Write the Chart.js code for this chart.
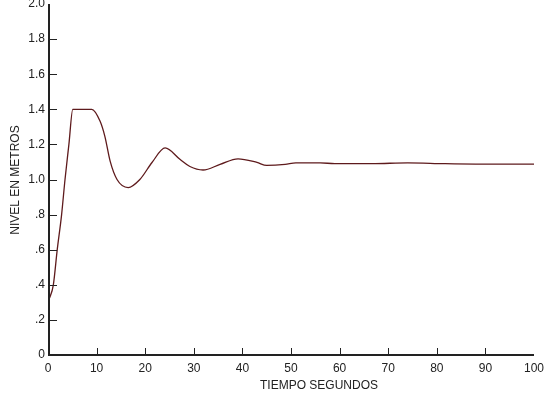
<!DOCTYPE html>
<html>
<head>
<meta charset="utf-8">
<script src="https://cdn.jsdelivr.net/npm/chart.js@4/dist/chart.umd.min.js"></script>
<style>
  html, body { margin: 0; padding: 0; background: #fff; }
  #wrap { width: 549px; height: 395px; position: relative; }
</style>
</head>
<body>
<div id="wrap"><canvas id="levelChart"></canvas></div>
<script>
// Tank level response, read at irregular time stamps
const timeSeconds = [0, 0.4, 1.1, 1.9, 2.8, 3.5, 4.3, 5.1, 9.0, 10.7, 11.7, 12.8, 14.2, 16.5, 18.9, 21.4,
  24.1, 27.2, 29.2, 31.9, 35.4, 39.1, 43, 45, 48.8, 51, 56, 59, 66.7, 74, 81.7, 88, 100];
const levelMeters = [0.31, 0.33, 0.40, 0.60, 0.80, 1.00, 1.20, 1.40, 1.40, 1.333, 1.246, 1.103, 1.00, 0.954, 1.00, 1.097,
  1.18, 1.114, 1.074, 1.054, 1.086, 1.118, 1.097, 1.08, 1.086, 1.095, 1.095, 1.09, 1.09, 1.095, 1.09, 1.088, 1.088];

const xTicks = [0, 10, 20, 30, 40, 50, 60, 70, 80, 90, 100];
const yTicks = [0, 0.2, 0.4, 0.6, 0.8, 1.0, 1.2, 1.4, 1.6, 1.8, 2.0];
const yTickLabels = ["0", ".2", ".4", ".6", ".8", "1.0", "1.2", "1.4", "1.6", "1.8", "2.0"];

const xTitle = "TIEMPO SEGUNDOS";
const yTitle = "NIVEL EN METROS";

const axisColor = "#222";
const lineColor = "#5e1a1c";
const font = { family: "Arial, 'Liberation Sans', sans-serif", size: 12 };

// axis lines, inward tick marks and hand-placed axis titles
const axisDecor = {
  id: "axisDecor",
  afterDraw(chart) {
    const ctx = chart.ctx;
    const xs = chart.scales.x;
    const ys = chart.scales.y;
    const area = chart.chartArea;
    const left = Math.round(area.left);
    const bottom = Math.round(area.bottom);
    ctx.save();
    ctx.fillStyle = axisColor;
    // axis lines as solid bars
    ctx.fillRect(left, area.top, 2, bottom - area.top);
    ctx.fillRect(left, bottom - 1, area.right - left, 2);

    // tick marks pointing into the plot
    xTicks.slice(1, -1).forEach(v => {
      const px = Math.round(xs.getPixelForValue(v));
      ctx.fillRect(px, bottom - 7, 1, 6);
    });
    yTicks.slice(1, -1).forEach(v => {
      const py = Math.round(ys.getPixelForValue(v));
      ctx.fillRect(left, py, 9, 1);
    });

    ctx.font = `${font.size}px ${font.family}`;
    ctx.textAlign = "center";
    ctx.textBaseline = "middle";
    ctx.fillText(xTitle, 319, 386);
    ctx.translate(16, 180);
    ctx.rotate(-Math.PI / 2);
    ctx.fillText(yTitle, 0, 0);
    ctx.restore();
  }
};

const data = timeSeconds.map((t, i) => ({ x: t, y: levelMeters[i] }));

new Chart(document.getElementById("levelChart"), {
  type: "line",
  data: {
    datasets: [{
      data: data,
      borderColor: lineColor,
      borderWidth: 1.3,
      pointRadius: 0,
      cubicInterpolationMode: "monotone",
      fill: false
    }]
  },
  options: {
    responsive: true,
    maintainAspectRatio: false,
    animation: false,
    layout: { padding: { top: 4, right: 15, left: 0, bottom: 0 } },
    plugins: { legend: { display: false }, tooltip: { enabled: false } },
    scales: {
      x: {
        type: "linear",
        min: 0,
        max: 100,
        afterBuildTicks: (axis) => { axis.ticks = xTicks.map(v => ({ value: v })); },
        afterFit: (axis) => {
          axis.height = 40;
          axis.paddingLeft = 0;
          axis.paddingRight = 0;
        },
        grid: { display: false, drawTicks: false },
        border: { display: false },
        ticks: { color: axisColor, font: font, padding: 6, maxRotation: 0 }
      },
      y: {
        type: "linear",
        min: 0,
        max: 2,
        afterBuildTicks: (axis) => { axis.ticks = yTicks.map(v => ({ value: v })); },
        afterFit: (axis) => {
          axis.width = 48;
          axis.paddingTop = 0;
          axis.paddingBottom = 0;
        },
        grid: { display: false, drawTicks: false },
        border: { display: false },
        ticks: {
          color: axisColor,
          font: font,
          padding: 3,
          callback: (v) => {
            const i = yTicks.findIndex(t => Math.abs(t - v) < 1e-6);
            return i >= 0 ? yTickLabels[i] : "";
          }
        }
      }
    }
  },
  plugins: [axisDecor]
});
</script>
</body>
</html>
